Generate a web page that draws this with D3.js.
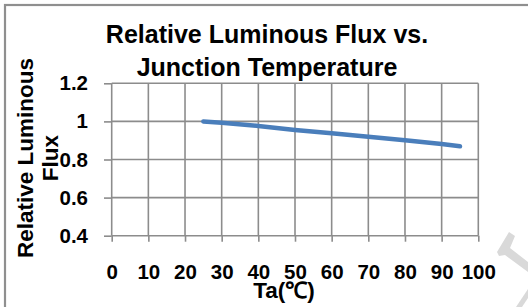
<!DOCTYPE html>
<html>
<head>
<meta charset="utf-8">
<script src="https://cdn.jsdelivr.net/npm/d3@7"></script>
<style>
  body { margin: 0; background: #fff; }
  svg { display: block; }
  text { font-family: "Liberation Sans", Arial, sans-serif; font-weight: bold; fill: #000; }
</style>
</head>
<body>
<div id="graphic"></div>
<script>
// data
var temps = [25, 30, 40, 50, 60, 70, 80, 90, 95];
var flux = [1.0, 0.993, 0.976, 0.955, 0.938, 0.92, 0.901, 0.881, 0.869];
var xTicks = [0, 10, 20, 30, 40, 50, 60, 70, 80, 90, 100];
var yTicks = [0.4, 0.6, 0.8, 1.0, 1.2];
var titleLines = ["Relative Luminous Flux vs.", "Junction Temperature"];
var yTitleLines = ["Relative Luminous", "Flux"];
var xTitle = "Ta(℃)";

var W = 528, H = 307;
var svg = d3.select("#graphic").append("svg")
    .attr("width", W)
    .attr("height", H);

// outer frame (right and bottom edges fall outside the picture)
svg.append("rect")
    .attr("x", 5).attr("y", 5)
    .attr("width", 600).attr("height", 400)
    .attr("fill", "none")
    .attr("stroke", "#8f8f8f")
    .attr("stroke-width", 2.2);

var x = d3.scaleLinear().domain([0, 100]).range([111.7, 478.3]);
var y = d3.scaleLinear().domain([0.4, 1.2]).range([235.7, 83.3]);

var gridColor = "#8c8c8c";

// grid
svg.append("g").selectAll("line").data(xTicks).join("line")
    .attr("x1", d => x(d)).attr("x2", d => x(d))
    .attr("y1", y(1.2)).attr("y2", y(0.4))
    .attr("stroke", gridColor).attr("stroke-width", 1.6);
svg.append("g").selectAll("line").data(yTicks).join("line")
    .attr("x1", x(0)).attr("x2", x(100))
    .attr("y1", d => y(d)).attr("y2", d => y(d))
    .attr("stroke", gridColor).attr("stroke-width", 1.6);

// axes
var xAxis = svg.append("g")
    .attr("transform", "translate(0," + y(0.4) + ")")
    .call(d3.axisBottom(x).tickValues(xTicks).tickSize(6).tickPadding(23).tickFormat(d3.format("d")));
var yAxis = svg.append("g")
    .attr("transform", "translate(" + x(0) + ",0)")
    .call(d3.axisLeft(y).tickValues(yTicks).tickSize(7.7).tickPadding(16).tickFormat(d => d3.format("")(+d.toFixed(1))));

[xAxis, yAxis].forEach(function (g) {
  g.select(".domain").remove();
  g.selectAll(".tick line").attr("stroke", gridColor).attr("stroke-width", 1.6);
  g.selectAll(".tick text")
      .attr("font-family", "'Liberation Sans', Arial, sans-serif")
      .attr("font-weight", "bold")
      .attr("font-size", 20.5)
      .attr("fill", "#000");
});

// series line
var line = d3.line()
    .x((d, i) => x(temps[i]))
    .y(d => y(d));
svg.append("path")
    .datum(flux)
    .attr("d", line)
    .attr("fill", "none")
    .attr("stroke", "#4a7ebb")
    .attr("stroke-width", 4.5)
    .attr("stroke-linecap", "round")
    .attr("stroke-linejoin", "round");

// chart title
svg.append("g").selectAll("text").data(titleLines).join("text")
    .attr("x", 267)
    .attr("y", (d, i) => 43 + i * 33)
    .attr("text-anchor", "middle")
    .attr("font-size", 25)
    .text(d => d);

// y axis title
svg.append("g").selectAll("text").data(yTitleLines).join("text")
    .attr("transform", (d, i) => "translate(" + (33 + i * 25) + ",158) rotate(-90)")
    .attr("text-anchor", "middle")
    .attr("font-size", 22.5)
    .text(d => d);

// x axis title
svg.append("text")
    .attr("x", 284)
    .attr("y", 298)
    .attr("text-anchor", "middle")
    .attr("font-size", 22.5)
    .text(xTitle);

// faint watermark pieces in the corner
var wm = svg.append("g").attr("fill", "#d9d9d9");
wm.append("path").attr("d", "M509,232 L515,236 L510,248 L528,262 L528,272 L505,255 L499,256 L497,252 Z");
wm.append("path").attr("d", "M528,289 L528,298 L522,307 L516,307 Z");
</script>
</body>
</html>
